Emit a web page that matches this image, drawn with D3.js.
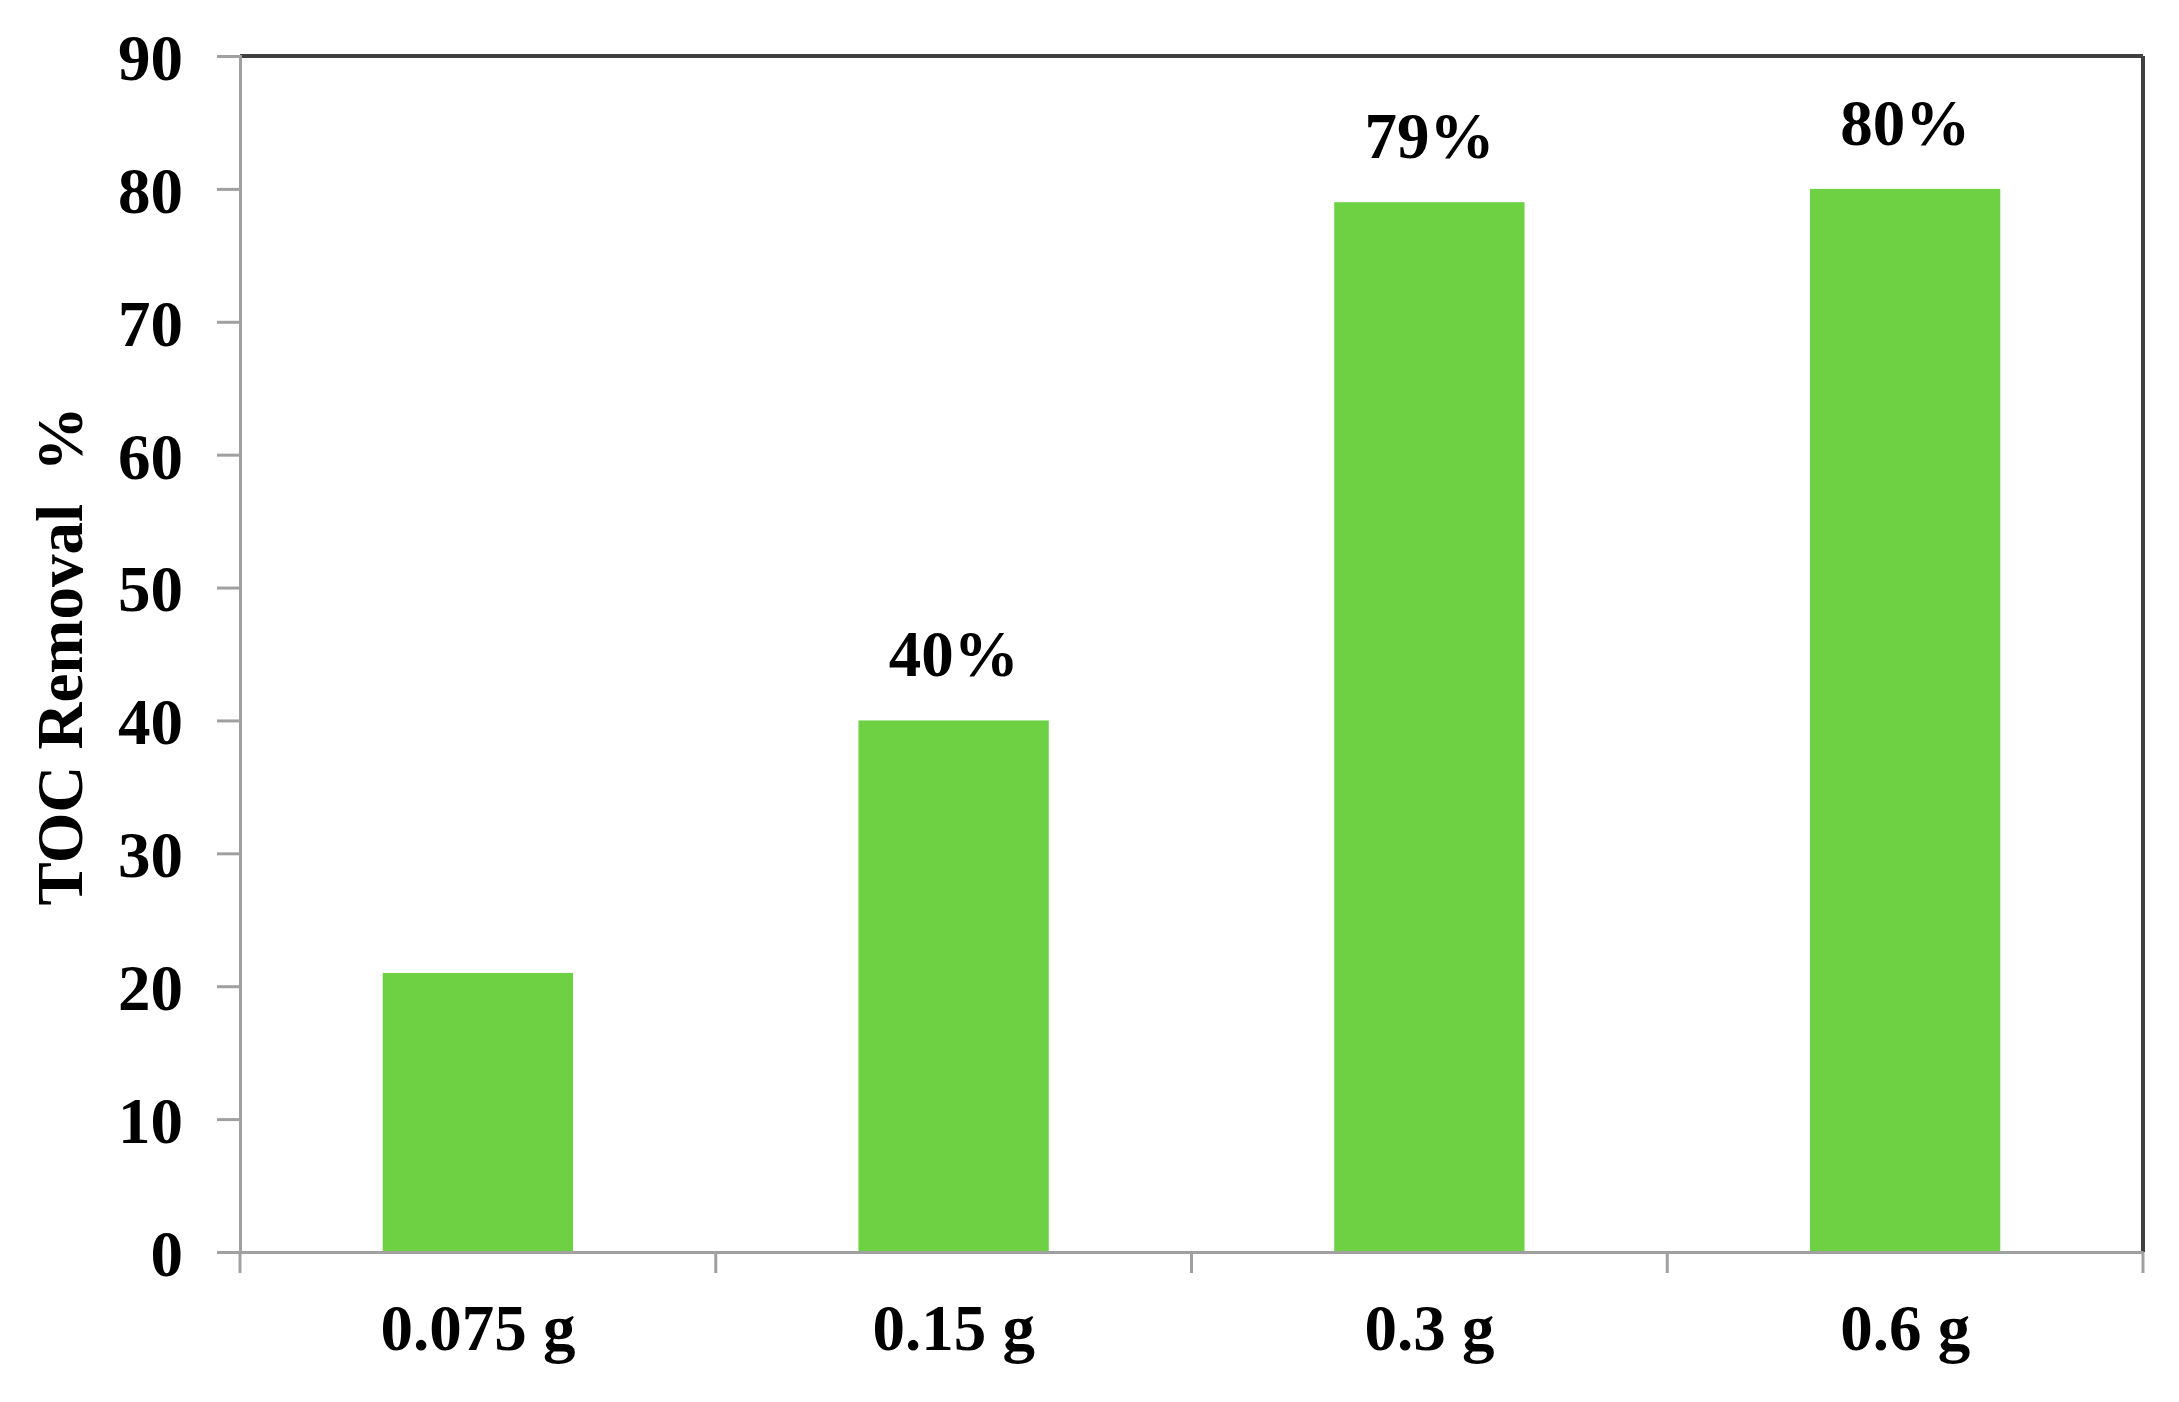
<!DOCTYPE html>
<html>
<head>
<meta charset="utf-8">
<script src="https://cdn.jsdelivr.net/npm/d3@7"></script>
<style>
  html, body { margin: 0; padding: 0; background: #ffffff; }
  svg { display: block; }
  text { font-family: "Liberation Serif", "Times New Roman", serif; font-weight: bold; fill: #000; }
</style>
</head>
<body>
<svg id="chart" width="2179" height="1402"></svg>
<script>
const categories = ["0.075 g", "0.15 g", "0.3 g", "0.6 g"];
const values = [21, 40, 79, 80];
const barLabels = ["", "40%", "79%", "80%"];
const yTicks = [0, 10, 20, 30, 40, 50, 60, 70, 80, 90];
const yTitle = "TOC Removal\u00A0\u00A0%";

const W = 2179, H = 1402;
const margin = { left: 240, right: W - 2143, top: 56, bottom: H - 1252 };
const svg = d3.select("#chart");
const iw = W - margin.left - margin.right;
const ih = H - margin.top - margin.bottom;
const g = svg.append("g").attr("transform", `translate(${margin.left},${margin.top})`);

const x = d3.scaleBand().domain(categories).range([0, iw]).paddingInner(0.6).paddingOuter(0.3);
const y = d3.scaleLinear().domain([0, 90]).range([ih, 0]);

// bars
g.selectAll("rect.bar").data(values).enter().append("rect")
  .attr("class", "bar")
  .attr("x", (d, i) => x(categories[i]))
  .attr("width", x.bandwidth())
  .attr("y", d => y(d))
  .attr("height", d => y(0) - y(d))
  .attr("fill", "#6dd143");

// top/right border
g.append("line").attr("x1", 0).attr("x2", iw).attr("y1", 0).attr("y2", 0)
  .attr("stroke", "#404040").attr("stroke-width", 4);
g.append("line").attr("x1", iw).attr("x2", iw).attr("y1", 0).attr("y2", ih)
  .attr("stroke", "#404040").attr("stroke-width", 4);

// y axis
const yAxis = d3.axisLeft(y).tickValues(yTicks).tickSize(23).tickPadding(34).tickFormat(d3.format("d"));
const ya = g.append("g").call(yAxis);
ya.select(".domain").attr("stroke", "#a0a0a0").attr("stroke-width", 3);
ya.selectAll(".tick line").attr("stroke", "#a0a0a0").attr("stroke-width", 3);
ya.selectAll(".tick text")
  .attr("font-size", 65).attr("font-family", "Liberation Serif, Times New Roman, serif")
  .attr("font-weight", "bold").attr("fill", "#000").attr("dy", "0.36em");

// x axis
const xAxis = d3.axisBottom(x).tickSize(0).tickPadding(0);
const xa = g.append("g").attr("transform", `translate(0,${ih})`).call(xAxis);
xa.select(".domain").attr("stroke", "#a0a0a0").attr("stroke-width", 3);
xa.selectAll(".tick text")
  .attr("font-size", 65).attr("font-family", "Liberation Serif, Times New Roman, serif")
  .attr("font-weight", "bold").attr("fill", "#000").attr("y", 98).attr("dy", 0);
// category boundary ticks
const step = x.step();
const boundaries = d3.range(categories.length + 1).map(i => i * (iw / categories.length));
xa.selectAll("line.bt").data(boundaries).enter().append("line")
  .attr("class", "bt")
  .attr("x1", d => d).attr("x2", d => d).attr("y1", 0).attr("y2", 21)
  .attr("stroke", "#a0a0a0").attr("stroke-width", 3);

// bar labels
g.selectAll("text.lbl").data(values).enter().append("text")
  .attr("class", "lbl")
  .attr("x", (d, i) => x(categories[i]) + x.bandwidth() / 2)
  .attr("y", d => y(d) - 44)
  .attr("text-anchor", "middle")
  .attr("font-size", 65)
  .text((d, i) => barLabels[i]);

// y title
svg.append("text")
  .attr("transform", `translate(82,656) rotate(-90)`)
  .attr("text-anchor", "middle")
  .attr("font-size", 65)
  .text(yTitle);
</script>
</body>
</html>
